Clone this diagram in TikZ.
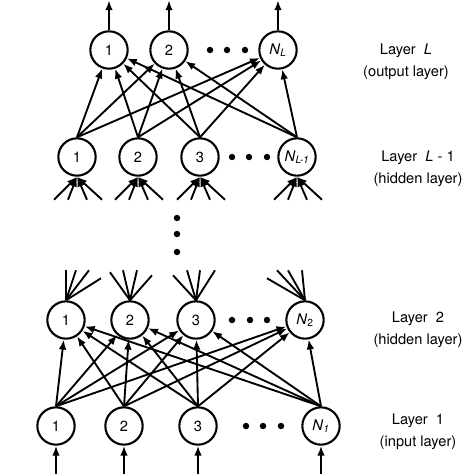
\documentclass[tikz,border=0pt]{standalone}
\usepackage{fontspec}
\setmainfont{TeX Gyre Heros}
\usetikzlibrary{arrows.meta, calc}

\begin{document}
\begin{tikzpicture}[x=0.03cm, y=-0.03cm, font=\fontsize{12.5}{14}\selectfont,
  unit/.style={
    draw,
    circle,
    line width=1.8pt,
    minimum size=1.12cm,
    inner sep=0pt
  },
  line/.style={-{Latex[length=8.5pt,width=6.5pt]}, line width=1.6pt},
  wire/.style={line width=1.6pt},
  dot/.style={circle, fill, inner sep=0pt, minimum size=5.5pt},
  layer/.style={align=center, font=\fontsize{12.5}{19}\selectfont}
  ]
\useasboundingbox (0,0) rectangle (474,474);

% Layer L (output)
\node[unit] (o1) at (109,50) {1};
\node[unit] (o2) at (169,50) {2};
\node[unit] (oN) at (278,50) {\textit{N}\textsubscript{\textit{L}}};

% Layer L-1 (hidden)
\node[unit] (g1) at (77,157) {1};
\node[unit] (g2) at (138,157) {2};
\node[unit] (g3) at (200,157) {3};
\node[unit] (gN) at (297,157) {\textit{N}\textsubscript{\textit{L-1}}};

% Layer 2 (hidden)
\node[unit] (h1) at (66,320) {1};
\node[unit] (h2) at (130,320) {2};
\node[unit] (h3) at (196,320) {3};
\node[unit] (hN) at (305,320) {\textit{N}\textsubscript{2}};

% Layer 1 (input)
\node[unit] (i1) at (56,426) {1};
\node[unit] (i2) at (124,426) {2};
\node[unit] (i3) at (198,426) {3};
\node[unit] (iN) at (321,426) {\textit{N}\textsubscript{\textit{1}}};

% Dots
\foreach \x in {210,227,245} \node[dot] (dL\x) at (\x,50) {};
\foreach \x in {232,249,267} \node[dot] (dG\x) at (\x,157) {};
\foreach \x in {232,250,267} \node[dot] (dH\x) at (\x,320) {};
\foreach \x in {246,263,281} \node[dot] (dI\x) at (\x,426) {};
\foreach \y in {218,234,252} \node[dot] (dV\y) at (177,\y) {};

% Inputs and outputs
\foreach \n in {1,2,N} {
  \coordinate (out\n) at ($(o\n.north)+(0,-30)$);
  \draw[line] (o\n) -- (out\n);
}
\foreach \n in {1,2,3,N} {
  \coordinate (in\n) at ($(i\n.south)+(0,30)$);
  \draw[line] (in\n) -- (i\n);
}

% Full connections
\foreach \a in {1,2,3,N}
  \foreach \b in {1,2,3,N}
    \draw[line] (i\a.north) -- (h\b);
\foreach \a in {1,2,3,N}
  \foreach \b in {1,2,N}
    \draw[line] (g\a.north) -- (o\b);

% Fans into layer L-1
\foreach \n in {1,2,3,N}
  \foreach \d in {-23,-9,10,25}
    \draw[line] ($(g\n.south)+(\d,23)$) -- (g\n.south);

% Fans out of layer 2
\foreach \n/\dl in {1/{0/30,10/30,23/30,35/22}, 2/{-20/28,-7/30,7/30,22/25},
    3/{-23/25,-9/30,4/30,19/30}, N/{-38/22,-28/30,-17/30,-3/30}}
  \foreach \d/\h in \dl
    \draw[wire] (h\n.north) -- ++(\d,-\h);

% Layer labels
\node[layer] (labL) at (406,62) {Layer~~\textit{L}\\(output layer)};
\node[layer] (labG) at (418,169) {Layer~~\textit{L}~-~1\\(hidden layer)};
\node[layer] (labH) at (418,330) {Layer~~2\\(hidden layer)};
\node[layer] (labI) at (418,432) {Layer~~1\\(input layer)};

\end{tikzpicture}
\end{document}
